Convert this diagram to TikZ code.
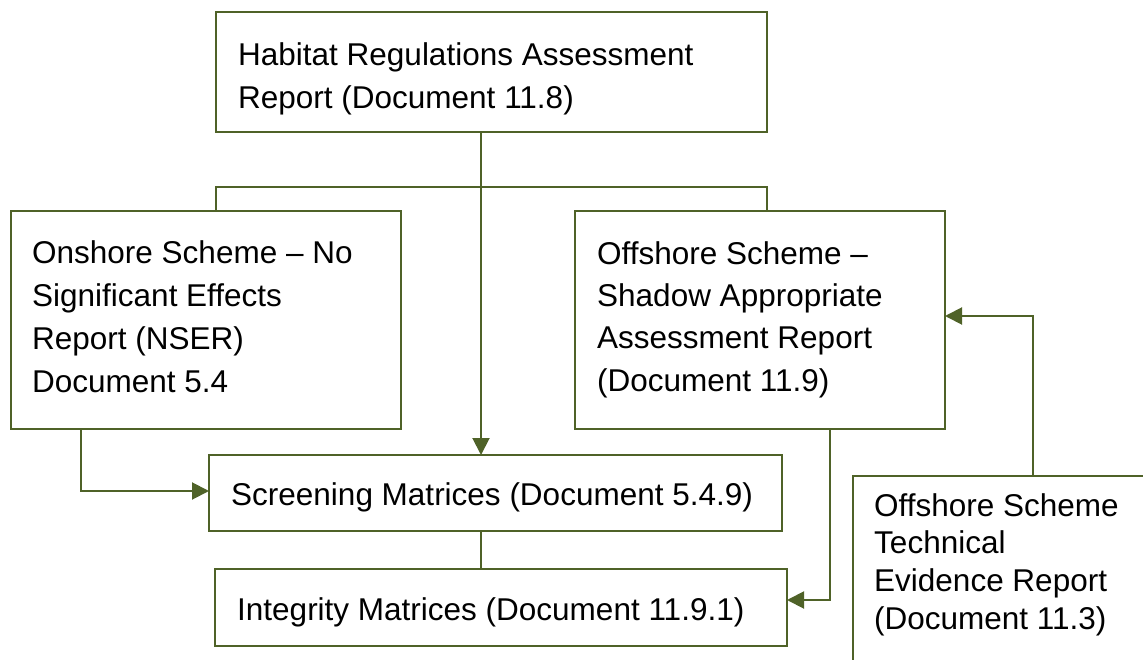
\documentclass[tikz,border=0pt]{standalone}
\usepackage{fontspec}
\setmainfont{Liberation Sans}
\usetikzlibrary{arrows.meta}

\begin{document}
\begin{tikzpicture}[x=1pt, y=-1pt, >={Triangle[length=17pt, width=17pt]}]

\definecolor{linkgreen}{RGB}{79, 98, 40}

\tikzset{
  docbox/.style={draw=linkgreen, line width=2pt, rectangle, inner sep=0pt, outer sep=0pt},
  doctext/.style={anchor=north west, inner sep=0pt, align=left, text=black},
  link/.style={draw=linkgreen, line width=2pt, fill=none}
}

\useasboundingbox (0, 0) rectangle (1143, 660);
\clip (0, 0) rectangle (1143, 660);

% boxes
\node[docbox, minimum width=551, minimum height=120] (hra) at (491.5, 72) {};
\node[docbox, minimum width=390, minimum height=218] (onshore) at (206, 320) {};
\node[docbox, minimum width=370, minimum height=218] (offshore) at (760, 320) {};
\node[docbox, minimum width=573, minimum height=76] (screening) at (495.5, 493) {};
\node[docbox, minimum width=572, minimum height=77] (integrity) at (501, 607.5) {};
\node[docbox, anchor=north west, minimum width=340, minimum height=250] (technical) at (853, 476) {};

% box texts
\node[doctext, font=\fontsize{31.5}{43.5}\selectfont] (hratext) at (238, 42.1)
  {Habitat Regulations Assessment\\Report (Document 11.8)};
\node[doctext, font=\fontsize{31.5}{43}\selectfont] (onshoretext) at (32, 240.1)
  {Onshore Scheme – No\\Significant Effects\\Report (NSER)\\Document 5.4};
\node[doctext, font=\fontsize{31.5}{42.3}\selectfont] (offshoretext) at (597, 241.1)
  {Offshore Scheme –\\Shadow Appropriate\\Assessment Report\\(Document 11.9)};
\node[doctext, font=\fontsize{31.5}{38}\selectfont] (screeningtext) at (231, 482.6)
  {Screening Matrices (Document 5.4.9)};
\node[doctext, font=\fontsize{31.5}{38}\selectfont] (integritytext) at (237, 597)
  {Integrity Matrices (Document 11.9.1)};
\node[doctext, font=\fontsize{31.5}{37.8}\selectfont] (technicaltext) at (874, 493)
  {Offshore Scheme\\Technical\\Evidence Report\\(Document 11.3)};

% connectors
\coordinate (trunk) at (481, 0);
\coordinate (fork) at (0, 187);
\coordinate (onleg) at (81, 491);
\coordinate (offleg) at (830, 600);
\coordinate (techleg) at (1033, 316);

\draw[link] (onshore.north -| hra.west) -- (fork -| hra.west) -- (fork -| hra.east) -- (offshore.north -| hra.east);
\draw[link, ->] (hra.south -| trunk) -- (screening.north -| trunk);
\draw[link] (screening.south -| trunk) -- (integrity.north -| trunk);
\draw[link, ->] (onshore.south -| onleg) |- (screening.west |- onleg);
\draw[link, ->] (offshore.south -| offleg) |- (integrity.east |- offleg);
\draw[link, ->] (technical.north -| techleg) |- (offshore.east |- techleg);

\end{tikzpicture}
\end{document}
